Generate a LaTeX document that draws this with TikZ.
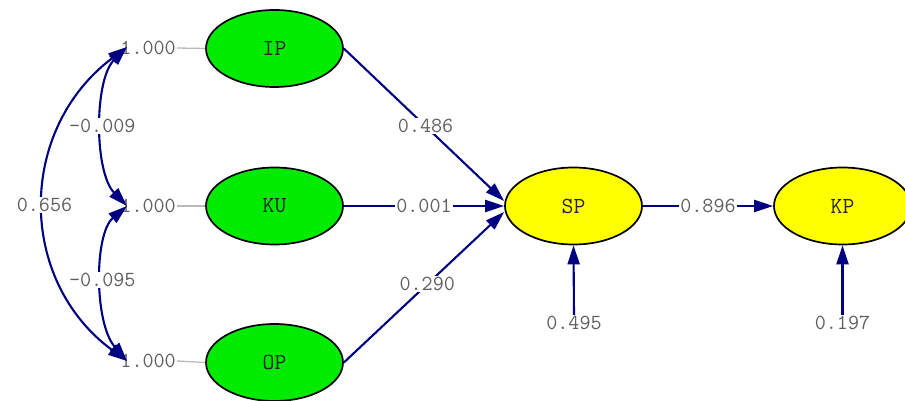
\documentclass[tikz,border=0pt]{standalone}
\usetikzlibrary{arrows.meta,shapes.geometric}
\definecolor{latgreen}{RGB}{0,235,0}
\definecolor{latyellow}{RGB}{255,255,0}
\definecolor{pathblue}{RGB}{0,0,128}
\definecolor{numgray}{RGB}{95,95,95}
\definecolor{fixgray}{RGB}{185,185,185}

\begin{document}
\begin{tikzpicture}[x=1pt,y=-1pt,
  latent/.style={ellipse,draw=black,line width=1.7pt,minimum width=137pt,
    minimum height=77pt,inner sep=0pt,text=black!85,
    font=\ttfamily\fontsize{23}{23}\selectfont},
  num/.style={font=\ttfamily\fontsize{21.5}{21.5}\selectfont,text=numgray,inner sep=1pt},
  numbg/.style={num,fill=white},
  tipshape/.tip={Triangle[length=19pt,width=12pt]},
  reg/.style={draw=pathblue,line width=2.1pt,-tipshape},
  cov/.style={draw=pathblue,line width=2.1pt,tipshape-tipshape},
  fixline/.style={draw=fixgray,line width=1.3pt}]
\useasboundingbox (0,0) rectangle (905,401);

% latent variables
\node[latent,fill=latgreen] (IP) at (274.5,48.5) {IP};
\node[latent,fill=latgreen] (KU) at (274.5,206) {KU};
\node[latent,fill=latgreen] (OP) at (274.5,362.5) {OP};
\node[latent,fill=latyellow] (SP) at (573.5,206) {SP};
\node[latent,fill=latyellow] (KP) at (842.5,206) {KP};

% fixed variances of the exogenous variables
\node[num,anchor=east] (vIP) at (177,48) {1.000};
\node[num,anchor=east] (vKU) at (177,206) {1.000};
\node[num,anchor=east] (vOP) at (177,361) {1.000};
\draw[fixline] (vIP.east) -- (IP.west);
\draw[fixline] (vKU.east) -- (KU.west);
\draw[fixline] (vOP.east) -- (OP.west);

% covariance arcs
\coordinate (tIP) at (127,47);
\coordinate (tKU) at (127,206);
\coordinate (tOP) at (127,361);
\draw[cov] (tIP) .. controls (17,130) and (17,280) .. node[numbg] (c13) {0.656} (tOP);
\draw[cov] (tIP) .. controls (94,80) and (94,172) .. node[numbg] (c12) {-0.009} (tKU);
\draw[cov] (tKU) .. controls (94,234) and (94,323) .. node[numbg] (c23) {-0.095} (tOP);

% structural paths
\draw[reg] (IP.east) -- node[numbg,pos=0.51] {0.486} ([yshift=5pt]SP.west);
\draw[reg] (KU.east) -- node[numbg] {0.001} (SP.west);
\draw[reg] (OP.east) -- node[numbg,pos=0.52] {0.290} ([yshift=-6pt]SP.west);
\draw[reg] (SP.east) -- node[numbg] {0.896} (KP.west);

% residual variances
\node[num] (eSP) at (574,323) {0.495};
\node[num] (eKP) at (842.5,323) {0.197};
\draw[reg] (eSP.north) -- (SP.south);
\draw[reg] (eKP.north) -- (KP.south);
\end{tikzpicture}
\end{document}
